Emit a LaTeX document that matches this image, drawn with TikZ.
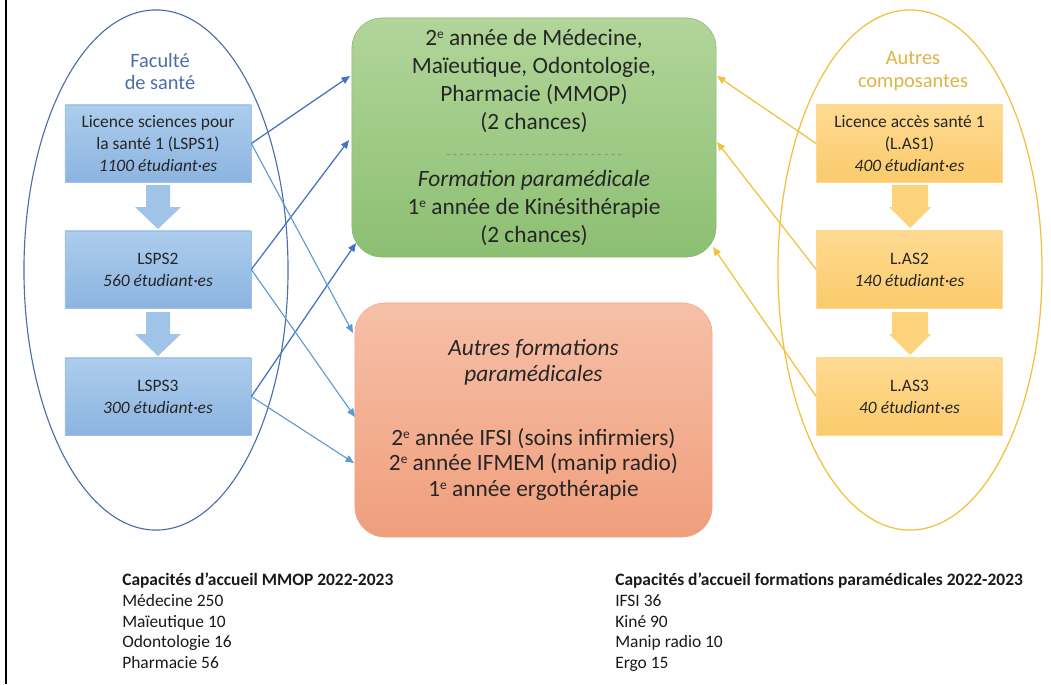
\documentclass[tikz,border=0pt]{standalone}
\usepackage{fontspec}
\setmainfont{Carlito}
\usetikzlibrary{shapes.geometric,arrows.meta}
\definecolor{santeblue}{RGB}{74,110,170}
\definecolor{bluetop}{RGB}{172,205,237}
\definecolor{bluebot}{RGB}{140,180,224}
\definecolor{blueedge}{RGB}{160,193,228}
\definecolor{blueblock}{RGB}{160,196,232}
\definecolor{arrowdark}{RGB}{68,114,196}
\definecolor{arrowlight}{RGB}{91,155,213}
\definecolor{gold}{RGB}{244,192,64}
\definecolor{goldtext}{RGB}{222,178,70}
\definecolor{goldtop}{RGB}{254,218,145}
\definecolor{goldbot}{RGB}{251,203,108}
\definecolor{goldblock}{RGB}{252,210,122}
\definecolor{greentop}{RGB}{178,213,154}
\definecolor{greenbot}{RGB}{140,191,114}
\definecolor{greenedge}{RGB}{135,184,110}
\definecolor{orangetop}{RGB}{246,192,168}
\definecolor{orangebot}{RGB}{240,158,124}
\definecolor{orangeedge}{RGB}{238,165,135}
\definecolor{dashgray}{RGB}{140,140,140}
\newcommand{\exposant}[1]{\raisebox{0.62ex}{\fontsize{9.5}{9.5}\selectfont #1}}
\tikzset{
  lsps/.style={draw=blueedge, top color=bluetop, bottom color=bluebot, text=black!85,
    minimum width=4.65cm, minimum height=1.925cm, inner sep=0pt, align=center,
    font=\fontsize{12.4}{15.6}\selectfont},
  las/.style={lsps, draw=goldtop, top color=goldtop, bottom color=goldbot},
  bigbox/.style={rounded corners=0.75cm, text=black!85, align=center, inner sep=0pt,
    font=\fontsize{16.6}{20.1}\selectfont},
  toGreen/.style={-{Triangle[length=6pt,width=5pt]}, line width=0.9pt, draw=arrowdark},
  toOrange/.style={-{Triangle[length=6pt,width=5pt]}, line width=0.8pt, draw=arrowlight},
  fromLas/.style={-{Triangle[length=6pt,width=5pt]}, line width=0.9pt, draw=gold},
  capa/.style={anchor=north west, align=left, inner sep=0pt, text=black!90,
    font=\fontsize{12.4}{14.6}\selectfont}
}
\begin{document}
\begin{tikzpicture}[x=0.025cm, y=-0.025cm]
\useasboundingbox (0,0) rectangle (1051,684);
\draw[line width=1.5pt] (6,0) -- (6,684);
\node[draw=santeblue, line width=0.8pt, ellipse, minimum width=6.6cm, minimum height=13cm] (fac) at (156,270) {};
\node[draw=gold, line width=0.9pt, ellipse, minimum width=6.6cm, minimum height=13cm] (compo) at (910,270) {};
\node[text=santeblue, align=center, font=\fontsize{14.5}{16.3}\selectfont] (facname) at (160,71.5) {Faculté\\de santé};
\node[text=goldtext, align=center, font=\fontsize{14.5}{16.3}\selectfont] (componame) at (913,71.5) {Autres\\composantes};
\node[lsps] (lsps1) at (158,143.5) {Licence sciences pour\\la santé 1 (LSPS1)\\\textit{1100 étudiant·es}};
\node[lsps] (lsps2) at (158,269.5) {LSPS2\\\textit{560 étudiant·es}};
\node[lsps] (lsps3) at (158,396.5) {LSPS3\\\textit{300 étudiant·es}};
\node[las] (las1) at (909.5,143.5) {Licence accès santé 1\\(L.AS1)\\\textit{400 étudiant·es}};
\node[las] (las2) at (909.5,269.5) {L.AS2\\\textit{140 étudiant·es}};
\node[las] (las3) at (909.5,396.5) {L.AS3\\\textit{40 étudiant·es}};
\foreach \y in {185,312} {
  \fill[blueblock] (146,\y) -- (170,\y) -- (170,\y+22) -- (181,\y+22) -- (158,\y+44) -- (135,\y+22) -- (146,\y+22) -- cycle;
  \fill[goldblock] (892,\y) -- (928,\y) -- (928,\y+22) -- (931,\y+22) -- (910,\y+43) -- (889,\y+22) -- (892,\y+22) -- cycle;
}
\node[bigbox, draw=greenedge, top color=greentop, bottom color=greenbot, minimum width=9.1cm, minimum height=5.975cm] (mmop) at (534,137.5)
  {2\exposant{e} année de Médecine,\\Maïeutique, Odontologie,\\Pharmacie (MMOP)\\(2 chances)\\
   \textcolor{dashgray}{\hbox to 4.45cm{\xleaders\hbox to 4.6pt{\hss\fontsize{9}{9}\selectfont-\hss}\hfill}}\\
   \textit{Formation paramédicale}\\1\exposant{e} année de Kinésithérapie\\(2 chances)};
\node[bigbox, draw=orangeedge, top color=orangetop, bottom color=orangebot, minimum width=8.925cm, minimum height=5.85cm,
  font=\fontsize{16.6}{18.1}\selectfont] (autres) at (533.5,420)
  {\textit{Autres formations}\\\textit{paramédicales}\\[0.96cm]2\exposant{e} année IFSI (soins infirmiers)\\
   2\exposant{e} année IFMEM (manip radio)\\1\exposant{e} année ergothérapie};
\coordinate (g1) at (350,76);
\coordinate (g2) at (349,140);
\coordinate (g3) at (356,243);
\coordinate (o1) at (353,333);
\coordinate (o2) at (355,417);
\coordinate (o3) at (354,463);
\coordinate (r1) at (717,76);
\coordinate (r2) at (717,142);
\coordinate (r3) at (713,247);
\path (lsps1.east) edge[toGreen] (g1);
\path (lsps2.east) edge[toGreen] (g2);
\path (lsps3.east) edge[toGreen] (g3);
\path (lsps1.east) edge[toOrange] (o1);
\path (lsps2.east) edge[toOrange] (o2);
\path (lsps3.east) edge[toOrange] (o3);
\path (las1.west) edge[fromLas] (r1);
\path (las2.west) edge[fromLas] (r2);
\path (las3.west) edge[fromLas] (r3);
\node[capa] (capammop) at (122,573) {\textbf{Capacités d’accueil MMOP 2022-2023}\\Médecine 250\\Maïeutique 10\\Odontologie 16\\Pharmacie 56};
\node[capa] (capapara) at (615,573) {\textbf{Capacités d’accueil formations paramédicales 2022-2023}\\IFSI 36\\Kiné 90\\Manip radio 10\\Ergo 15};
\end{tikzpicture}
\end{document}
